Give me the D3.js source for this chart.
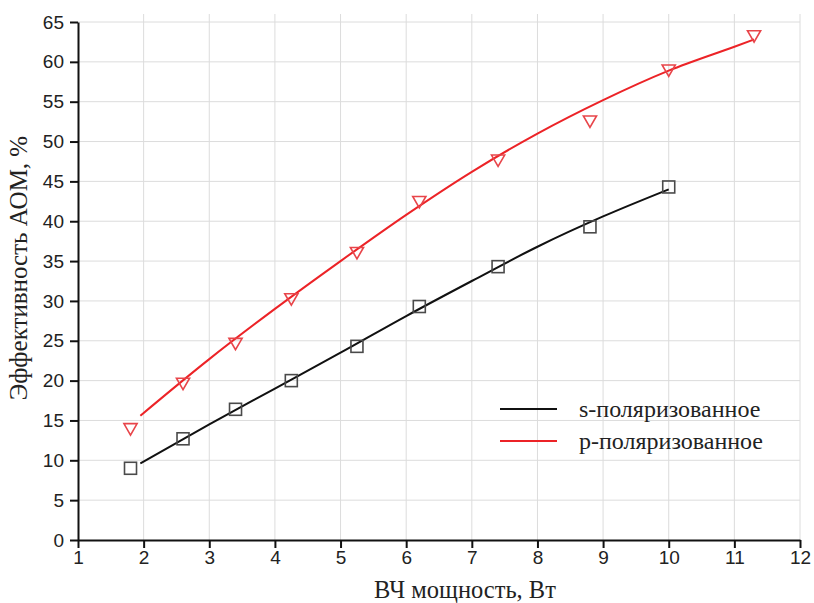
<!DOCTYPE html>
<html>
<head>
<meta charset="utf-8">
<script src="https://cdn.jsdelivr.net/npm/d3@7"></script>
<style>
	body { margin: 0; background: #fff; }
	svg { display: block; }
</style>
</head>
<body>
<svg id="chart" width="814" height="603"></svg>
<script>
// measured points
const sPower = [1.8, 2.6, 3.4, 4.25, 5.25, 6.2, 7.4, 8.8, 10.0];
const sEff = [9.0, 12.7, 16.4, 20.0, 24.3, 29.3, 34.3, 39.3, 44.3];
const pPower = [1.8, 2.6, 3.4, 4.25, 5.25, 6.2, 7.4, 8.8, 10.0, 11.3];
const pEff = [14.0, 19.7, 24.7, 30.3, 36.1, 42.5, 47.7, 52.6, 59.0, 63.3];

// fitted curves
const sFitX = [1.95, 3, 4, 5, 6, 7, 8, 9, 10];
const sFitY = [9.6, 14.5, 19.0, 23.5, 28.1, 32.5, 36.8, 40.6, 44.0];
const pFitX = [1.95, 3, 4, 5, 6, 7, 8, 9, 10, 11, 11.3];
const pFitY = [15.6, 22.7, 29.0, 35.0, 40.8, 46.2, 51.0, 55.2, 58.9, 61.9, 62.8];

const xTicks = d3.range(1, 13);
const yTicks = d3.range(0, 70, 5);
const seriesNames = ['s-поляризованное', 'p-поляризованное'];

const svg = d3.select('#chart');
const x = d3.scaleLinear().domain([1, 12]).range([78, 800]);
const y = d3.scaleLinear().domain([0, 65]).range([540, 22]);

const tickFont = 'Liberation Sans, Arial, sans-serif';
const serif = 'Liberation Serif, Times New Roman, serif';

// grid
svg.append('g').selectAll('line').data(xTicks.slice(1)).join('line')
	.attr('x1', d => x(d)).attr('x2', d => x(d))
	.attr('y1', y(0)).attr('y2', 14)
	.attr('stroke', '#dcdcdc').attr('stroke-width', 1);
svg.append('g').selectAll('line').data(yTicks.slice(1)).join('line')
	.attr('x1', x(1)).attr('x2', x(12))
	.attr('y1', d => y(d)).attr('y2', d => y(d))
	.attr('stroke', '#dcdcdc').attr('stroke-width', 1);

// axes
const xAxis = svg.append('g')
	.attr('transform', 'translate(0,' + y(0) + ')')
	.call(d3.axisBottom(x).tickValues(xTicks).tickSize(8).tickPadding(3).tickSizeOuter(0));
const yAxis = svg.append('g')
	.attr('transform', 'translate(' + x(1) + ',0)')
	.call(d3.axisLeft(y).tickValues(yTicks).tickSize(8).tickPadding(6).tickSizeOuter(0));

[xAxis, yAxis].forEach(function (g) {
	g.select('.domain').attr('stroke', '#111').attr('stroke-width', 2);
	g.selectAll('.tick line').attr('stroke', '#111').attr('stroke-width', 2);
	g.selectAll('.tick text')
		.attr('fill', '#222')
		.style('font-family', tickFont)
		.style('font-size', '19px');
});

// fit lines
const line = d3.line().curve(d3.curveMonotoneX)
	.x(d => x(d[0])).y(d => y(d[1]));

svg.append('path')
	.datum(d3.zip(sFitX, sFitY))
	.attr('d', line)
	.attr('fill', 'none').attr('stroke', '#111').attr('stroke-width', 2);
svg.append('path')
	.datum(d3.zip(pFitX, pFitY))
	.attr('d', line)
	.attr('fill', 'none').attr('stroke', '#ec2327').attr('stroke-width', 2);

// markers
svg.append('g').selectAll('rect').data(d3.zip(sPower, sEff)).join('rect')
	.attr('x', d => x(d[0]) - 6).attr('y', d => y(d[1]) - 6)
	.attr('width', 12).attr('height', 12)
	.attr('fill', 'none').attr('stroke', '#4a4a4a').attr('stroke-width', 1.6);

const tri = d3.symbol().type(d3.symbolTriangle).size(75);
svg.append('g').selectAll('path').data(d3.zip(pPower, pEff)).join('path')
	.attr('d', tri)
	.attr('transform', d => 'translate(' + x(d[0]) + ',' + (y(d[1]) - 1) + ') rotate(180)')
	.attr('fill', 'none').attr('stroke', '#e8454a').attr('stroke-width', 1.6);

// legend
const legend = svg.append('g');
const legendRows = legend.selectAll('g').data(seriesNames).join('g')
	.attr('transform', (d, i) => 'translate(500,' + (409 + i * 32) + ')');
legendRows.append('line')
	.attr('x1', 0).attr('x2', 57)
	.attr('stroke', (d, i) => i ? '#ec2327' : '#111').attr('stroke-width', 2);
legendRows.append('text')
	.attr('x', 79).attr('y', 8)
	.style('font-family', serif).style('font-size', '24px')
	.attr('fill', '#222')
	.text(d => d);

// axis titles
svg.append('text')
	.attr('x', 465).attr('y', 598)
	.attr('text-anchor', 'middle')
	.style('font-family', serif).style('font-size', '24.5px')
	.attr('fill', '#222')
	.text('ВЧ мощность, Вт');
svg.append('text')
	.attr('transform', 'translate(27,268) rotate(-90)')
	.attr('text-anchor', 'middle')
	.style('font-family', serif).style('font-size', '25px')
	.attr('fill', '#222')
	.text('Эффективность АОМ, %');
</script>
</body>
</html>
